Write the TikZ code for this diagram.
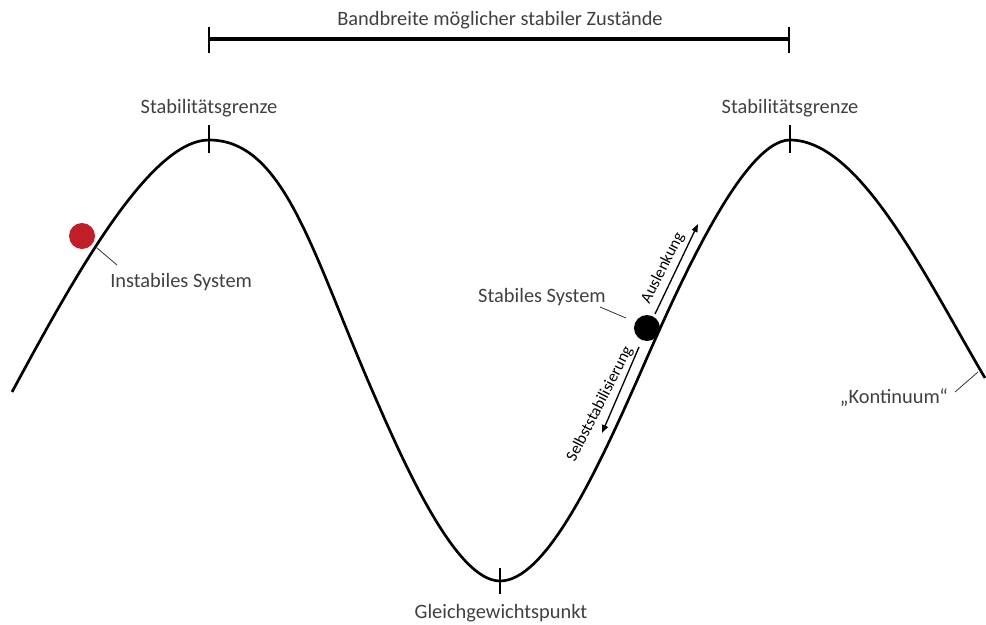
\documentclass[tikz,border=0pt]{standalone}
\usepackage{fontspec}
\setmainfont{Carlito}
\usetikzlibrary{arrows.meta}
\definecolor{labelgray}{RGB}{64,64,64}
\definecolor{dotred}{RGB}{192,30,40}
\begin{document}
\begin{tikzpicture}[x=0.75pt,y=-0.75pt,
  labeltext/.style={text=labelgray,font=\fontsize{15.3}{18}\selectfont,inner sep=0pt},
  sidetext/.style={text=black,font=\fontsize{12.2}{14}\selectfont,inner sep=0pt},
  wave/.style={line width=2pt,line join=round},
  marker/.style={line width=2.2pt},
  leader/.style={line width=0.6pt,black!80},
  motion/.style={line width=1pt,-{Triangle[length=6pt,width=4.5pt]}},
  ball/.style={circle,minimum size=19.5pt,inner sep=0pt}]
\useasboundingbox (0,0) rectangle (986,625);

% range of stable states
\draw[line width=2.5pt] (209,39) -- (789,39);
\draw[marker] (209,27) -- (209,53);
\draw[marker] (789,27) -- (789,53);
\node[labeltext] (band) at (500,20) {Bandbreite möglicher stabiler Zustände};

% the potential landscape: peaks, trough and inflection points joined by cubic segments
\draw[wave] (12,392)
  .. controls (72,281) and (149,140) .. (209,140)
  .. controls (284,140) and (312,252) .. (372,390)
  .. controls (402,459) and (455,581) .. (500,581)
  .. controls (545,581) and (595,475) .. (635,385)
  .. controls (670,306) and (740,140) .. (790,140)
  .. controls (860,140) and (925,276) .. (985,378);

% markers on the curve
\draw[marker] (209,125) -- (209,153);
\draw[marker] (790,125) -- (790,153);
\draw[marker] (500,568) -- (500,594);

\node[labeltext] (limL) at (209,108) {Stabilitätsgrenze};
\node[labeltext] (limR) at (790,108) {Stabilitätsgrenze};
\node[labeltext] (equi) at (501,613) {Gleichgewichtspunkt};

% unstable system
\node[ball,fill=dotred] (red) at (82,236) {};
\node[labeltext,anchor=west] (inst) at (110,282) {Instabiles System};
\coordinate (instA) at (97,248);
\coordinate (instB) at (117,265);
\draw[leader] (instA) -- (instB);

% stable system
\node[ball,fill=black] (blk) at (647,328) {};
\node[labeltext] (stab) at (542,297) {Stabiles System};
\coordinate (stabA) at (600,307);
\coordinate (stabB) at (626,318);
\draw[leader] (stabA) -- (stabB);

\coordinate (upS) at (655,314);
\coordinate (upE) at (698,224);
\draw[motion] (upS) -- (upE);
\node[sidetext,rotate=63] (ausl) at (663,268) {Auslenkung};

\coordinate (dnS) at (639,347);
\coordinate (dnE) at (602,433);
\draw[motion] (dnS) -- (dnE);
\node[sidetext,rotate=63] (selbst) at (600,404) {Selbststabilisierung};

% continuum
\node[labeltext] (kont) at (894,398) {„Kontinuum“};
\coordinate (kontA) at (955,392);
\coordinate (kontB) at (978,372);
\draw[leader] (kontA) -- (kontB);
\end{tikzpicture}
\end{document}
